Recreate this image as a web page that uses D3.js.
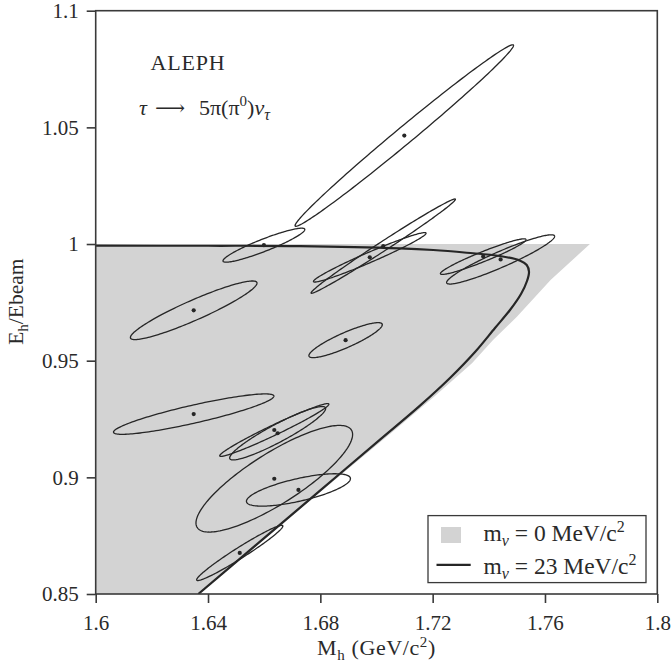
<!DOCTYPE html>
<html>
<head>
<meta charset="utf-8">
<script src="https://cdn.jsdelivr.net/npm/d3@7"></script>
<style>
  html, body { margin: 0; padding: 0; background: #fff; }
  text { font-family: "Liberation Serif", "DejaVu Serif", serif; fill: #2a2a2a; }
</style>
</head>
<body>
<svg id="chart" width="671" height="670"></svg>
<script>
// ---- data ----
const massTicks  = [1.6, 1.64, 1.68, 1.72, 1.76, 1.8];
const ratioTicks = [0.85, 0.9, 0.95, 1, 1.05, 1.1];

// event ellipses: centre (M_h, E_h/Ebeam), half-extents and correlation
const evMass  = [1.7099, 1.6599, 1.7024, 1.6976, 1.7380, 1.7442, 1.6349, 1.6890, 1.6349, 1.6636, 1.6648, 1.6636, 1.6722, 1.6513];
const evRatio = [1.0465, 0.9995, 0.9991, 0.9943, 0.9946, 0.9934, 0.9716, 0.9588, 0.9271, 0.9203, 0.9189, 0.8994, 0.8946, 0.8676];
const evSigM  = [0.0389, 0.01457, 0.0257, 0.02005, 0.01524, 0.01923, 0.02254, 0.01307, 0.02856, 0.01944, 0.01709, 0.02789, 0.01852, 0.01535];
const evSigR  = [0.0389, 0.00729, 0.0202, 0.01059, 0.00763, 0.01055, 0.01256, 0.0075, 0.00866, 0.01132, 0.01145, 0.02285, 0.00694, 0.01183];
const evRho   = [0.9925, 0.922, 0.993, 0.975, 0.954, 0.937, 0.928, 0.884, 0.89, 0.977, 0.926, 0.83, 0.70, 0.973];

// allowed region for m_nu = 0 (grey)
const zeroMass  = [1.6, 1.6, 1.7760, 1.7620, 1.7500, 1.7415, 1.7340, 1.7205, 1.7065, 1.6805, 1.6590, 1.6368];
const zeroRatio = [0.85, 1.0, 1.0, 0.98457, 0.96884, 0.95885, 0.94886, 0.93455, 0.92028, 0.8943, 0.87244, 0.85];

// boundary for m_nu = 23 MeV/c^2 (black curve)
const nuMass  = [1.6000, 1.6400, 1.67275, 1.70837, 1.72023, 1.73212, 1.74398, 1.75118, 1.7535, 1.75431, 1.75360, 1.75146, 1.74754, 1.74220, 1.73508, 1.72617, 1.71549, 1.70125, 1.67988, 1.65851, 1.63654];
const nuRatio = [0.99927, 0.99925, 0.99914, 0.99816, 0.99743, 0.99627, 0.99486, 0.99284, 0.9910, 0.98812, 0.98414, 0.97857, 0.97171, 0.96400, 0.95371, 0.94257, 0.93073, 0.91616, 0.89430, 0.87244, 0.85000];

// ---- layout ----
const W = 671, H = 670;
const margin = {left: 95.7, right: 13.7, top: 10.7, bottom: 76};
const svg = d3.select("#chart");
const x = d3.scaleLinear().domain([1.6, 1.8]).range([margin.left, W - margin.right]);
const y = d3.scaleLinear().domain([0.85, 1.1]).range([H - margin.bottom, margin.top]);
const ink = "#262626";

svg.append("defs").append("clipPath").attr("id", "plotclip")
  .append("rect").attr("x", x(1.6)).attr("y", y(1.1))
  .attr("width", x(1.8) - x(1.6)).attr("height", y(0.85) - y(1.1));

const plot = svg.append("g").attr("clip-path", "url(#plotclip)");

// grey region
const zeroPts = zeroMass.map((m, i) => [m, zeroRatio[i]]);
plot.append("path")
  .attr("d", d3.line().x(d => x(d[0])).y(d => y(d[1])).curve(d3.curveLinearClosed)(zeroPts))
  .attr("fill", "#d3d3d3").attr("stroke", "none");

// m_nu = 23 curve
const nuPts = nuMass.map((m, i) => [m, nuRatio[i]]);
plot.append("path")
  .attr("d", d3.line().x(d => x(d[0])).y(d => y(d[1])).curve(d3.curveCatmullRom.alpha(0.5))(nuPts))
  .attr("fill", "none").attr("stroke", ink).attr("stroke-width", 2.2);

// ellipses
const angles = d3.range(0, 2 * Math.PI, Math.PI / 90);
const ellLine = d3.line().x(d => x(d[0])).y(d => y(d[1])).curve(d3.curveLinearClosed);
evMass.forEach((cm, i) => {
  const sm = evSigM[i], sr = evSigR[i], r = evRho[i], q = Math.sqrt(1 - r * r);
  const pts = angles.map(t => [cm + sm * Math.cos(t), evRatio[i] + sr * (r * Math.cos(t) + q * Math.sin(t))]);
  plot.append("path").attr("d", ellLine(pts))
    .attr("fill", "none").attr("stroke", ink).attr("stroke-width", 1.3);
});
plot.selectAll("circle.ev").data(evMass).enter().append("circle")
  .attr("class", "ev")
  .attr("cx", d => x(d)).attr("cy", (d, i) => y(evRatio[i])).attr("r", 2.1)
  .attr("fill", ink);

// frame
svg.append("rect").attr("x", x(1.6)).attr("y", y(1.1))
  .attr("width", x(1.8) - x(1.6)).attr("height", y(0.85) - y(1.1))
  .attr("fill", "none").attr("stroke", "#3a3a3a").attr("stroke-width", 1.6);

// axes
const xAxis = svg.append("g").attr("transform", `translate(0,${y(0.85)})`)
  .call(d3.axisBottom(x).tickValues(massTicks).tickFormat(d3.format("")).tickSize(9).tickPadding(7));
const yAxis = svg.append("g").attr("transform", `translate(${x(1.6)},0)`)
  .call(d3.axisLeft(y).tickValues(ratioTicks).tickFormat(d3.format("")).tickSize(9).tickPadding(8));
[xAxis, yAxis].forEach(g => {
  g.select(".domain").remove();
  g.selectAll(".tick line").attr("stroke", "#3a3a3a").attr("stroke-width", 1.6);
  g.selectAll(".tick text").attr("font-size", 21).attr("fill", "#2a2a2a")
    .attr("font-family", '"Liberation Serif", serif');
});
xAxis.selectAll(".tick text").attr("dy", "0.95em");

// axis titles
const xt = svg.append("text").attr("x", 376.5).attr("y", 655).attr("text-anchor", "middle")
  .attr("font-size", 22).attr("letter-spacing", 0.6);
xt.append("tspan").text("M");
xt.append("tspan").attr("font-size", 15).attr("dy", 5).text("h");
xt.append("tspan").attr("dy", -5).text(" (GeV/c");
xt.append("tspan").attr("font-size", 15).attr("dy", -8).text("2");
xt.append("tspan").attr("dy", 8).text(")");

const yt = svg.append("text").attr("transform", "translate(23,301.7) rotate(-90)")
  .attr("text-anchor", "middle").attr("font-size", 21.5);
yt.append("tspan").text("E");
yt.append("tspan").attr("font-size", 15).attr("dy", 5).text("h");
yt.append("tspan").attr("dy", -5).text("/Ebeam");

// annotations
svg.append("text").attr("x", 150.6).attr("y", 69.5).attr("font-size", 22)
  .attr("letter-spacing", 0.8).text("ALEPH");
const dec = svg.append("text").attr("y", 115).attr("font-size", 22);
dec.append("tspan").attr("x", 139).attr("font-style", "italic").text("τ");
dec.append("tspan").attr("x", 155).attr("font-family", '"DejaVu Serif", serif').attr("font-size", 21).text("⟶");
dec.append("tspan").attr("x", 199).text("5π(π");
dec.append("tspan").attr("font-size", 15).attr("dy", -9).text("0");
dec.append("tspan").attr("dy", 9).text(")");
dec.append("tspan").attr("font-style", "italic").text("ν");
dec.append("tspan").attr("font-style", "italic").attr("font-size", 16).attr("dy", 5).text("τ");

// legend
const lg = svg.append("g");
lg.append("rect").attr("x", 428).attr("y", 515.6).attr("width", 218).attr("height", 67)
  .attr("fill", "#fff").attr("stroke", "#3a3a3a").attr("stroke-width", 1.3);
lg.append("rect").attr("x", 441).attr("y", 527).attr("width", 20).attr("height", 16).attr("fill", "#d3d3d3");
lg.append("line").attr("x1", 436.5).attr("x2", 470.7).attr("y1", 564.8).attr("y2", 564.8)
  .attr("stroke", ink).attr("stroke-width", 2.2);
function legText(yb, val) {
  const t = lg.append("text").attr("x", 483.5).attr("y", yb).attr("font-size", 23.5);
  t.append("tspan").text("m");
  t.append("tspan").attr("font-style", "italic").attr("font-size", 16).attr("dy", 5).text("ν");
  t.append("tspan").attr("dy", -5).text(` = ${val} MeV/c`);
  t.append("tspan").attr("font-size", 16).attr("dy", -9).text("2");
}
legText(541, 0);
legText(574, 23);
</script>
</body>
</html>
